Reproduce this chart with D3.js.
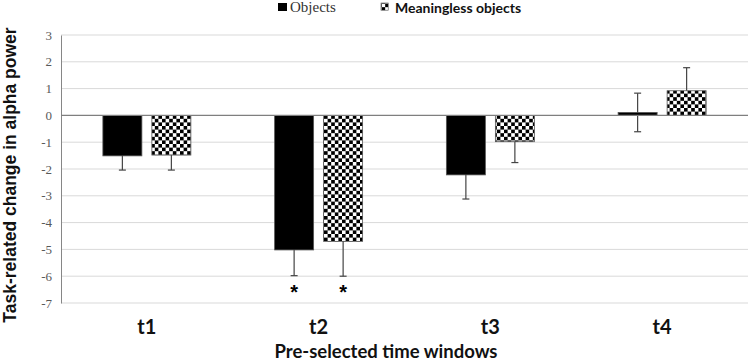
<!DOCTYPE html>
<html>
<head>
<meta charset="utf-8">
<script src="https://cdn.jsdelivr.net/npm/d3@7"></script>
<style>
body { margin: 0; background: #fff; }
#chart { width: 750px; height: 361px; }
</style>
</head>
<body>
<div id="chart"></div>
<script>

var windows = ["t1", "t2", "t3", "t4"];
var seriesNames = ["Objects", "Meaningless objects"];
var objects = [-1.51, -5.02, -2.22, 0.11];
var objectsErr = [0.53, 0.96, 0.9, 0.72];
var meaningless = [-1.48, -4.7, -0.98, 0.92];
var meaninglessErr = [0.56, 1.3, 0.78, 0.86];
var yTicks = [3, 2, 1, 0, -1, -2, -3, -4, -5, -6, -7];
var starred = ["t2"];

var width = 750, height = 361;
var svg = d3.select("#chart")
    .append("svg")
    .attr("width", width)
    .attr("height", height);

var plotLeft = 61, plotRight = 748, plotTop = 35, plotBottom = 303;
var serif = "'Liberation Serif', 'Times New Roman', serif";
var arial = "'Liberation Sans', Arial, sans-serif";
var calibri = "Lato, 'Open Sans', sans-serif";

var x = d3.scaleBand()
    .domain(windows)
    .range([plotLeft, plotRight]);

var y = d3.scaleLinear()
    .domain([-7, 3])
    .range([plotBottom, plotTop]);

var barW = 39, gap = 10;

// checkerboard fill
var defs = svg.append("defs");
var pat = defs.append("pattern")
    .attr("id", "checks")
    .attr("patternUnits", "userSpaceOnUse")
    .attr("width", 7.2).attr("height", 7.2);
pat.append("rect").attr("width", 7.2).attr("height", 7.2).attr("fill", "#fff");
pat.append("rect").attr("width", 3.6).attr("height", 3.6).attr("fill", "#000");
pat.append("rect").attr("x", 3.6).attr("y", 3.6).attr("width", 3.6).attr("height", 3.6).attr("fill", "#000");

// grid
svg.append("g")
    .selectAll("line")
    .data(yTicks.filter(function(d){ return d != 0; }))
    .enter()
    .append("line")
        .attr("x1", plotLeft).attr("x2", plotRight)
        .attr("y1", function(d){ return y(d); })
        .attr("y2", function(d){ return y(d); })
        .attr("stroke", "#d9d9d9")
        .attr("stroke-width", 1);

var yAxis = svg.append("g")
    .attr("transform", "translate(" + plotLeft + ",0)")
    .call(d3.axisLeft(y).tickValues(yTicks).tickSize(0).tickPadding(9)
        .tickFormat(function(d){ return String(d); }));
yAxis.attr("font-family", serif).attr("font-size", 13);
yAxis.select(".domain").attr("stroke", "#868686");
yAxis.selectAll("text")
    .attr("fill", "#595959");

var series = [
    { name: seriesNames[0], values: objects, errs: objectsErr, fill: "#000", off: -(gap / 2 + barW) },
    { name: seriesNames[1], values: meaningless, errs: meaninglessErr, fill: "url(#checks)", off: gap / 2 }
];

var mid = function(cat){ return x(cat) + x.bandwidth() / 2; };

series.forEach(function(s){
    var rows = windows.map(function(w, i){
        return { w: w, v: s.values[i], e: s.errs[i] };
    });
    var g = svg.append("g");
    var eb = g.selectAll(".err")
        .data(rows)
        .enter()
        .append("g");
    eb.append("line")
        .attr("x1", function(d){ return mid(d.w) + s.off + barW / 2; })
        .attr("x2", function(d){ return mid(d.w) + s.off + barW / 2; })
        .attr("y1", function(d){ return y(d.v - d.e); })
        .attr("y2", function(d){ return y(d.v + d.e); })
        .attr("stroke", "#444").attr("stroke-width", 1.2);
    [-1, 1].forEach(function(sign){
        eb.append("line")
            .attr("x1", function(d){ return mid(d.w) + s.off + barW / 2 - 3.5; })
            .attr("x2", function(d){ return mid(d.w) + s.off + barW / 2 + 3.5; })
            .attr("y1", function(d){ return y(d.v + sign * d.e); })
            .attr("y2", function(d){ return y(d.v + sign * d.e); })
            .attr("stroke", "#444").attr("stroke-width", 1.2);
    });
    g.selectAll("rect")
        .data(rows)
        .enter()
        .append("rect")
            .attr("x", function(d){ return mid(d.w) + s.off; })
            .attr("y", function(d){ return y(Math.max(0, d.v)); })
            .attr("width", barW)
            .attr("height", function(d){ return Math.abs(y(d.v) - y(0)); })
            .attr("fill", s.fill)
            .attr("stroke", "#555")
            .attr("stroke-width", 0.8);

    // significance marks
    g.selectAll(".star")
        .data(rows.filter(function(d){ return starred.indexOf(d.w) >= 0; }))
        .enter()
        .append("text")
            .attr("x", function(d){ return mid(d.w) + s.off + barW / 2; })
            .attr("y", function(d){ return y(d.v - d.e) + 23; })
            .attr("text-anchor", "middle")
            .attr("font-family", arial)
            .attr("font-weight", "bold")
            .attr("font-size", 20)
            .text("*");
});

// zero line
svg.append("line")
    .attr("x1", plotLeft).attr("x2", plotRight)
    .attr("y1", y(0)).attr("y2", y(0))
    .attr("stroke", "#7f7f7f").attr("stroke-width", 1.2);

// category labels
svg.append("g")
    .selectAll("text")
    .data(windows)
    .enter()
    .append("text")
        .attr("x", function(d){ return mid(d); })
        .attr("y", 334)
        .attr("text-anchor", "middle")
        .attr("font-family", calibri)
        .attr("font-weight", "bold")
        .attr("font-size", 20)
        .attr("fill", "#111")
        .text(function(d){ return d; });

svg.append("text")
    .attr("x", 386)
    .attr("y", 358)
    .attr("text-anchor", "middle")
    .attr("font-family", calibri)
    .attr("font-weight", "bold")
    .attr("font-size", 18.5)
    .attr("fill", "#111")
    .text("Pre-selected time windows");

svg.append("text")
    .attr("transform", "translate(16,175) rotate(-90)")
    .attr("text-anchor", "middle")
    .attr("font-family", arial)
    .attr("font-weight", "bold")
    .attr("font-size", 17.5)
    .attr("fill", "#111")
    .text("Task-related change in alpha power");

// legend
var legend = svg.append("g");
legend.append("rect")
    .attr("x", 278).attr("y", 3).attr("width", 9).attr("height", 8)
    .attr("fill", "#000");
legend.append("text")
    .attr("x", 290).attr("y", 12)
    .attr("font-family", serif)
    .attr("font-size", 15)
    .attr("fill", "#333")
    .text(seriesNames[0]);
legend.append("rect")
    .attr("x", 381).attr("y", 3).attr("width", 7.2).attr("height", 7.2)
    .attr("fill", "url(#checks)")
    .attr("stroke", "#555").attr("stroke-width", 0.6);
legend.append("text")
    .attr("x", 395).attr("y", 13)
    .attr("font-family", calibri)
    .attr("font-weight", "bold")
    .attr("font-size", 14)
    .attr("fill", "#111")
    .text(seriesNames[1]);

</script>
</body>
</html>
